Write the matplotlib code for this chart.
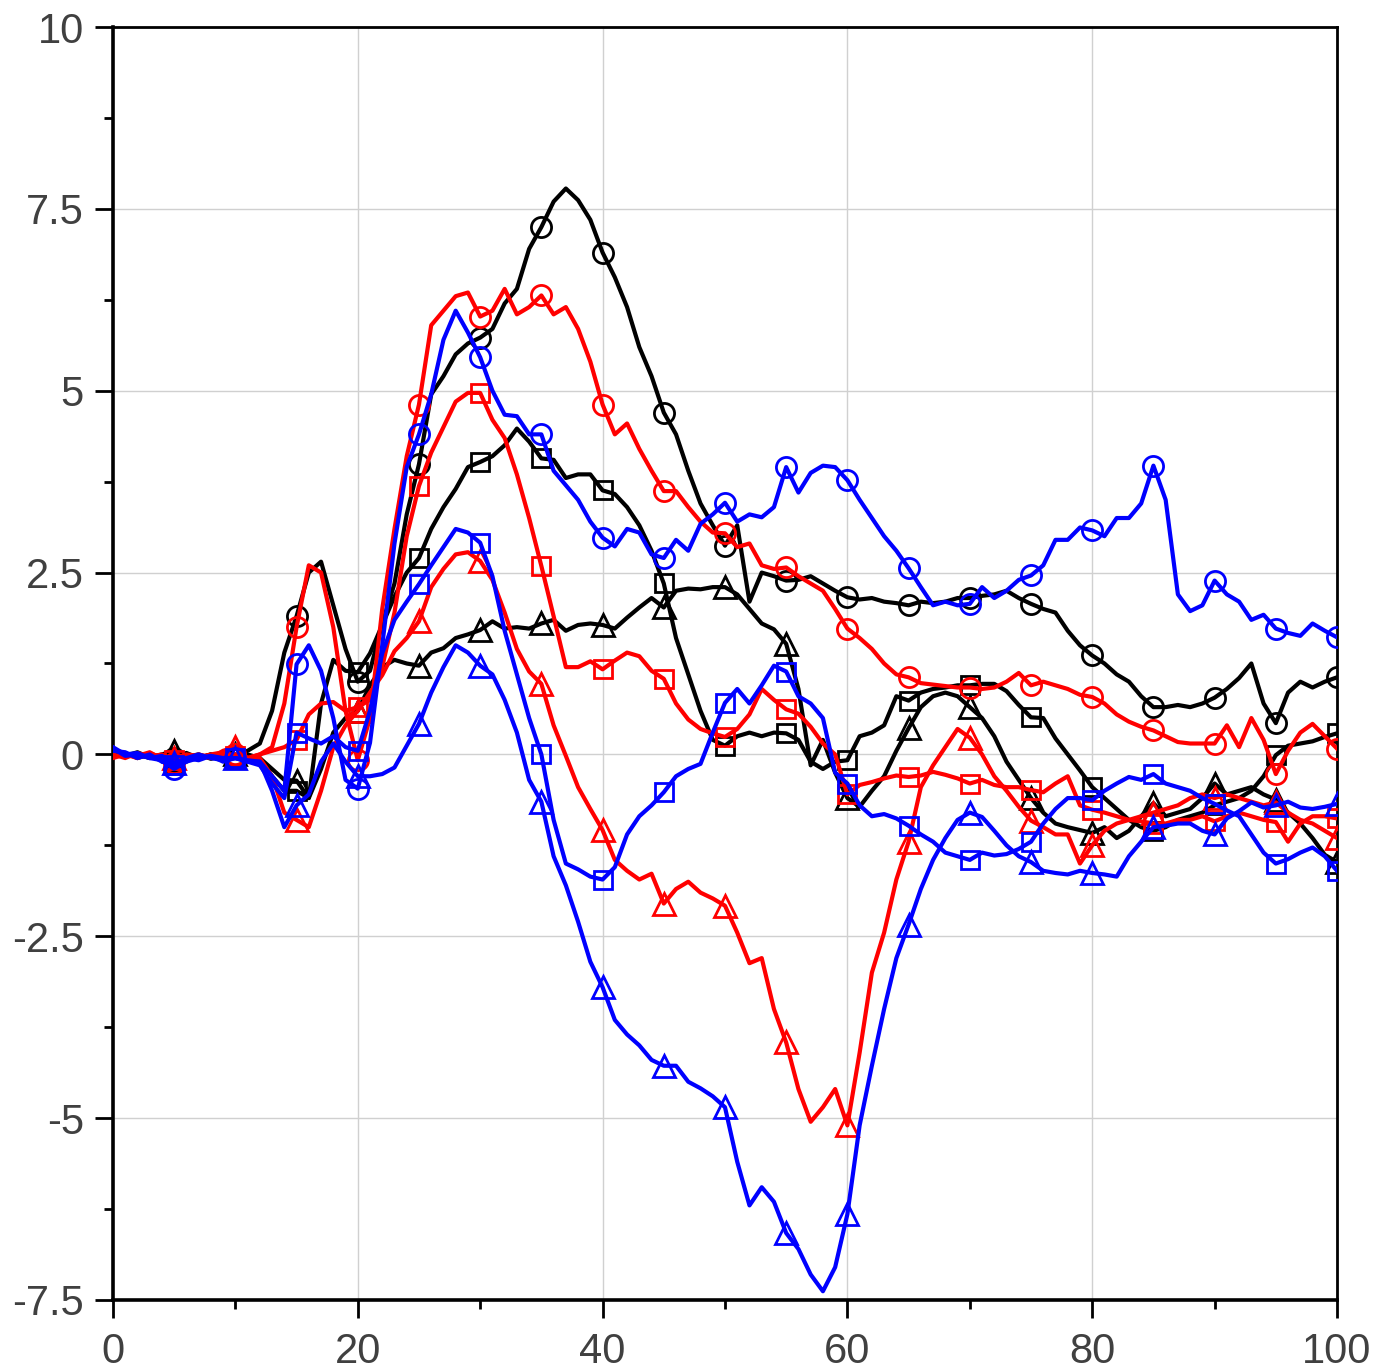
import numpy as np
import matplotlib
matplotlib.use("Agg")
import matplotlib.pyplot as plt
from matplotlib.ticker import MultipleLocator

# ---------------- data (x = 0..100, step 1) ----------------
x = list(range(0, 101))

black_circle = [0.0, 0.02, -0.05, 0.0, -0.04, -0.05, 0.02, -0.05, 0.0, -0.06, -0.03, 0.05,
                0.15, 0.6, 1.4, 1.9, 2.5, 2.65, 2.05, 1.45, 1.0,
                1.15, 1.8, 2.35, 3.3, 3.99, 4.95, 5.2, 5.5, 5.65, 5.73,
                5.85, 6.2, 6.4, 6.95, 7.25, 7.6, 7.78, 7.62, 7.35, 6.9,
                6.56, 6.15, 5.6, 5.2, 4.7, 4.4, 3.9, 3.45, 3.15, 2.87,
                3.15, 2.1, 2.5, 2.45, 2.39, 2.4, 2.45, 2.35, 2.25, 2.16,
                2.13, 2.15, 2.1, 2.08, 2.05, 2.1, 2.08, 2.1, 2.15, 2.15,
                2.18, 2.2, 2.25, 2.15, 2.07, 2.0, 1.95, 1.7, 1.5, 1.36,
                1.25, 1.1, 1.0, 0.8, 0.65, 0.65, 0.68, 0.65, 0.7, 0.78,
                0.9, 1.05, 1.25, 0.7, 0.43, 0.85, 1.0, 0.92, 1.0, 1.06]

red_circle = [-0.05, 0.0, -0.02, 0.03, -0.06, -0.12, -0.05, 0.0, -0.04, -0.02, 0.0, -0.05,
              0.0, 0.1, 0.7, 1.75, 2.6, 2.5, 1.75, 0.6, -0.08,
              0.5, 2.0, 3.1, 4.1, 4.81, 5.9, 6.1, 6.3, 6.35, 6.02,
              6.1, 6.4, 6.05, 6.15, 6.31, 6.05, 6.15, 5.85, 5.4, 4.81,
              4.4, 4.55, 4.2, 3.9, 3.62, 3.62, 3.4, 3.2, 3.05, 3.04,
              2.85, 2.9, 2.6, 2.55, 2.57, 2.45, 2.35, 2.25, 2.0, 1.73,
              1.6, 1.45, 1.25, 1.1, 1.06, 0.98, 0.96, 0.94, 0.92, 0.92,
              0.9, 0.92, 1.0, 1.12, 0.95, 1.0, 0.95, 0.9, 0.82, 0.79,
              0.7, 0.55, 0.45, 0.38, 0.33, 0.25, 0.17, 0.15, 0.15, 0.15,
              0.4, 0.1, 0.5, 0.2, -0.27, 0.05, 0.3, 0.42, 0.25, 0.08]

blue_circle = [0.1, 0.0, 0.02, -0.05, -0.08, -0.2, -0.1, -0.05, -0.02, -0.1, -0.05, -0.1,
               -0.1, -0.3, -0.5, 1.24, 1.5, 1.15, 0.5, -0.35, -0.47,
               0.16, 1.5, 2.9, 3.95, 4.4, 4.95, 5.7, 6.1, 5.8, 5.46,
               5.0, 4.67, 4.65, 4.4, 4.4, 3.9, 3.7, 3.5, 3.2, 2.98,
               2.86, 3.1, 3.05, 2.75, 2.7, 2.95, 2.8, 3.17, 3.3, 3.46,
               3.2, 3.3, 3.26, 3.4, 3.95, 3.6, 3.87, 3.97, 3.95, 3.77,
               3.5, 3.25, 3.0, 2.8, 2.56, 2.3, 2.05, 2.1, 2.05, 2.07,
               2.3, 2.15, 2.25, 2.4, 2.46, 2.6, 2.95, 2.95, 3.12, 3.08,
               3.0, 3.25, 3.25, 3.45, 3.97, 3.5, 2.2, 1.97, 2.05, 2.39,
               2.2, 2.1, 1.85, 1.92, 1.73, 1.67, 1.63, 1.8, 1.7, 1.61]

black_square = [0.02, -0.03, 0.0, -0.05, -0.02, -0.1, -0.03, 0.0, -0.06, -0.02, -0.05, 0.0,
                -0.05, -0.3, -0.5, -0.5, -0.6, 0.7, 1.3, 1.15, 1.13,
                1.39, 1.78, 2.17, 2.5, 2.7, 3.1, 3.4, 3.65, 3.95, 4.02,
                4.1, 4.25, 4.48, 4.3, 4.07, 4.05, 3.8, 3.85, 3.85, 3.63,
                3.58, 3.4, 3.15, 2.8, 2.35, 1.6, 1.1, 0.6, 0.2, 0.12,
                0.25, 0.3, 0.25, 0.3, 0.29, 0.2, -0.1, -0.2, -0.1, -0.08,
                0.25, 0.3, 0.4, 0.8, 0.74, 0.85, 0.9, 0.92, 0.95, 0.95,
                0.97, 0.97, 0.87, 0.68, 0.51, 0.5, 0.22, 0.0, -0.22, -0.45,
                -0.6, -0.75, -0.9, -1.0, -1.05, -1.0, -0.9, -0.85, -0.8, -0.7,
                -0.65, -0.6, -0.5, -0.3, -0.01, 0.12, 0.15, 0.18, 0.24, 0.29]

red_square = [0.0, -0.05, 0.02, -0.03, 0.0, -0.08, -0.02, -0.04, 0.0, 0.03, -0.02, -0.05,
              0.0, 0.05, 0.1, 0.2, 0.55, 0.7, 0.72, 0.6, 0.65,
              0.75, 1.2, 1.95, 3.0, 3.69, 4.15, 4.5, 4.85, 4.97, 4.97,
              4.6, 4.35, 3.85, 3.25, 2.59, 1.9, 1.2, 1.2, 1.28, 1.17,
              1.29, 1.4, 1.35, 1.15, 1.04, 0.7, 0.48, 0.35, 0.29, 0.24,
              0.35, 0.55, 0.9, 0.75, 0.62, 0.56, 0.38, 0.15, 0.0, -0.55,
              -0.42, -0.38, -0.33, -0.29, -0.31, -0.29, -0.24, -0.28, -0.33, -0.4,
              -0.35, -0.42, -0.45, -0.45, -0.49, -0.52, -0.4, -0.3, -0.7, -0.76,
              -0.8, -0.85, -0.9, -0.92, -0.95, -0.95, -0.9, -0.9, -0.85, -0.92,
              -0.85, -0.8, -0.85, -0.9, -0.93, -1.2, -0.95, -0.85, -0.85, -0.88]

blue_square = [0.05, 0.03, -0.05, 0.0, -0.1, -0.15, -0.05, 0.0, -0.05, -0.08, -0.05, -0.1,
               -0.15, -0.4, -0.6, 0.3, 0.22, 0.15, 0.25, 0.1, 0.05,
               0.6, 1.39, 1.85, 2.1, 2.34, 2.6, 2.85, 3.1, 3.05, 2.91,
               2.45, 1.7, 1.1, 0.5, 0.0, -0.9, -1.5, -1.58, -1.68, -1.72,
               -1.55, -1.1, -0.85, -0.7, -0.52, -0.3, -0.2, -0.13, 0.3, 0.71,
               0.9, 0.7, 0.95, 1.22, 1.14, 0.8, 0.7, 0.5, -0.25, -0.4,
               -0.7, -0.85, -0.82, -0.88, -0.98, -1.1, -1.2, -1.35, -1.4, -1.45,
               -1.35, -1.39, -1.37, -1.3, -1.2, -0.95, -0.75, -0.6, -0.6, -0.63,
               -0.5, -0.4, -0.31, -0.35, -0.27, -0.4, -0.45, -0.5, -0.6, -0.68,
               -0.77, -0.85, -1.1, -1.35, -1.5, -1.44, -1.35, -1.28, -1.4, -1.6]

black_triangle = [0.0, -0.02, 0.03, -0.04, 0.0, 0.05, -0.03, -0.05, 0.0, -0.05, 0.0, -0.02,
                  -0.05, -0.2, -0.35, -0.36, -0.6, -0.2, 0.3, 0.5, 0.6,
                  0.95, 1.2, 1.3, 1.25, 1.22, 1.4, 1.46, 1.6, 1.65, 1.71,
                  1.83, 1.73, 1.75, 1.73, 1.8, 1.85, 1.7, 1.78, 1.8, 1.78,
                  1.73, 1.88, 2.02, 2.15, 2.02, 2.25, 2.28, 2.27, 2.3, 2.3,
                  2.2, 2.0, 1.8, 1.72, 1.52, 0.9, -0.15, 0.2, -0.25, -0.6,
                  -0.72, -0.5, -0.3, 0.05, 0.36, 0.65, 0.8, 0.85, 0.8, 0.65,
                  0.5, 0.25, -0.1, -0.35, -0.6, -0.8, -0.95, -1.0, -1.04, -1.08,
                  -1.0, -1.15, -1.05, -0.85, -0.67, -0.85, -0.8, -0.75, -0.6, -0.4,
                  -0.55, -0.5, -0.45, -0.55, -0.62, -0.8, -0.95, -1.15, -1.38, -1.48]

red_triangle = [-0.03, 0.0, -0.05, 0.02, -0.05, -0.05, 0.0, -0.02, -0.05, 0.05, 0.1, -0.05,
                -0.05, -0.3, -0.8, -0.9, -1.0, -0.5, 0.1, 0.4, 0.6,
                0.85, 1.09, 1.42, 1.6, 1.83, 2.3, 2.55, 2.75, 2.78, 2.66,
                2.4, 1.95, 1.45, 1.14, 0.97, 0.4, -0.02, -0.45, -0.75, -1.04,
                -1.45, -1.6, -1.72, -1.64, -2.05, -1.85, -1.75, -1.9, -1.98, -2.08,
                -2.45, -2.87, -2.8, -3.5, -3.96, -4.6, -5.05, -4.85, -4.6, -5.1,
                -4.1, -3.0, -2.45, -1.72, -1.2, -0.45, -0.15, 0.1, 0.35, 0.23,
                0.0, -0.3, -0.5, -0.72, -0.91, -1.0, -1.1, -1.1, -1.5, -1.25,
                -1.05, -0.95, -0.9, -0.85, -0.8, -0.75, -0.7, -0.6, -0.55, -0.6,
                -0.55, -0.6, -0.65, -0.7, -0.66, -0.8, -0.9, -0.95, -1.05, -1.15]

blue_triangle = [0.08, -0.02, 0.0, -0.05, -0.02, -0.12, -0.05, -0.08, -0.02, -0.05, -0.05, -0.08,
                 -0.1, -0.5, -1.0, -0.7, -0.55, -0.1, 0.15, -0.1, -0.3,
                 -0.3, -0.27, -0.18, 0.12, 0.42, 0.85, 1.2, 1.5, 1.4, 1.22,
                 1.1, 0.75, 0.3, -0.35, -0.65, -1.4, -1.8, -2.3, -2.85, -3.2,
                 -3.65, -3.85, -4.0, -4.2, -4.28, -4.28, -4.5, -4.59, -4.7, -4.85,
                 -5.6, -6.2, -5.95, -6.15, -6.58, -6.8, -7.15, -7.38, -7.05, -6.32,
                 -5.1, -4.28, -3.5, -2.8, -2.34, -1.85, -1.45, -1.15, -0.9, -0.8,
                 -0.86, -1.05, -1.25, -1.4, -1.48, -1.6, -1.63, -1.65, -1.6, -1.63,
                 -1.65, -1.68, -1.4, -1.2, -1.0, -0.98, -0.95, -0.95, -1.05, -1.1,
                 -0.88, -0.78, -0.66, -0.73, -0.7, -0.65, -0.73, -0.75, -0.72, -0.68]

series = [
    (black_circle, "k", "o"), (black_square, "k", "s"), (black_triangle, "k", "^"),
    (red_circle, "#ff0000", "o"), (red_square, "#ff0000", "s"), (red_triangle, "#ff0000", "^"),
    (blue_circle, "#0000ff", "o"), (blue_square, "#0000ff", "s"), (blue_triangle, "#0000ff", "^"),
]
marker_size = {"o": 14.5, "s": 13.5, "^": 15.5}

# ---------------- plotting ----------------
plt.rcParams["font.family"] = ["Liberation Sans", "DejaVu Sans"]
fig = plt.figure(figsize=(13.91, 13.72), dpi=100)
ax = fig.add_axes([0.0812, 0.0525, 0.88, 0.9278])

for y, col, mk in series:
    ax.plot(x, y, color=col, lw=3.0, marker=mk, ms=marker_size[mk], mfc="none",
            mec=col, mew=2.0, markevery=list(range(5, 101, 5)), zorder=3)

ax.set_xlim(0, 100)
ax.set_ylim(-7.5, 10)
ax.xaxis.set_major_locator(MultipleLocator(20))
ax.xaxis.set_minor_locator(MultipleLocator(10))
ax.yaxis.set_major_locator(MultipleLocator(2.5))
ax.yaxis.set_minor_locator(MultipleLocator(1.25))
ax.yaxis.set_major_formatter(plt.FuncFormatter(lambda v, p: f"{v:g}"))

ax.grid(True, which="major", color="#d0d0d0", lw=1.0, zorder=0)
ax.set_axisbelow(True)

ax.tick_params(which="major", direction="out", length=13, width=2, labelsize=30,
               labelcolor="#404040", pad=8, top=False, right=False)
ax.tick_params(which="minor", direction="out", length=6.5, width=2, top=False, right=False)
ax.tick_params(axis="x", which="major", pad=10)

for side in ["left", "bottom"]:
    ax.spines[side].set_linewidth(2.6)
for side in ["top", "right"]:
    ax.spines[side].set_linewidth(2.0)

fig.savefig("out.png", dpi=100)
